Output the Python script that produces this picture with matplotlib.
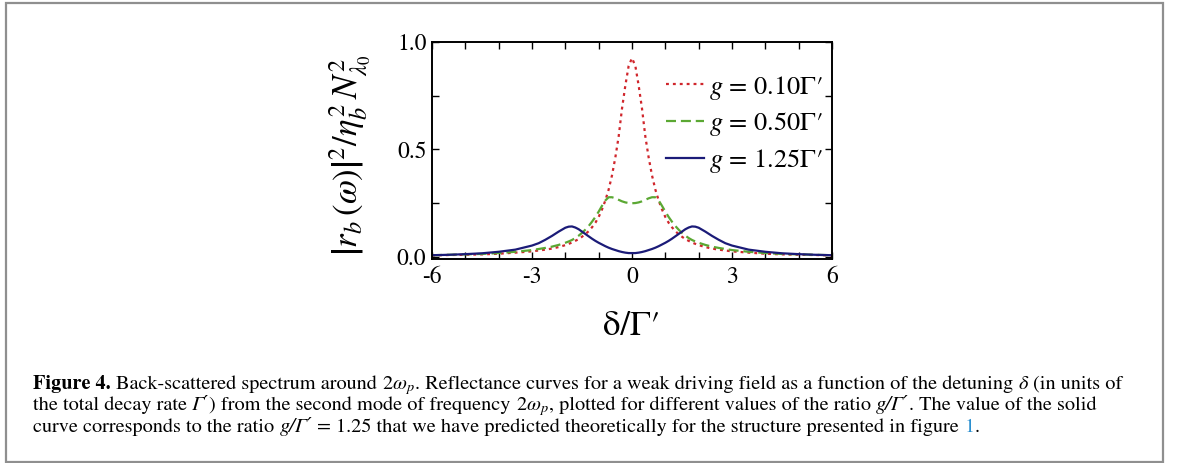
import numpy as np
import matplotlib
matplotlib.use('Agg')
import matplotlib.pyplot as plt
from matplotlib.patches import Rectangle

plt.rcParams['font.family'] = 'STIXGeneral'
plt.rcParams['mathtext.fontset'] = 'stix'
plt.rcParams['axes.unicode_minus'] = False

# half profile (curves are symmetric in detuning)
x_half = [0.0, 0.1, 0.2, 0.3, 0.4, 0.5, 0.6, 0.7, 0.8, 0.9, 1.0,
          1.1, 1.2, 1.3, 1.4, 1.5, 1.6, 1.7, 1.8, 1.9, 2.0,
          2.2, 2.4, 2.6, 2.8, 3.0, 3.5, 4.0, 4.5, 5.0, 5.5, 6.0]
r_g010 = [0.925, 0.889, 0.797, 0.690, 0.560, 0.462, 0.379, 0.313, 0.262, 0.220, 0.185,
          0.158, 0.137, 0.119, 0.105, 0.093, 0.082, 0.074, 0.066, 0.060, 0.054,
          0.045, 0.038, 0.033, 0.029, 0.025, 0.019, 0.014, 0.011, 0.009, 0.008, 0.006]
r_g050 = [0.249, 0.250, 0.253, 0.258, 0.265, 0.272, 0.277, 0.277, 0.262, 0.237, 0.210,
          0.185, 0.163, 0.143, 0.126, 0.111, 0.098, 0.087, 0.078, 0.071, 0.065,
          0.055, 0.047, 0.041, 0.036, 0.031, 0.023, 0.017, 0.013, 0.011, 0.009, 0.007]
r_g125 = [0.017, 0.017, 0.019, 0.022, 0.026, 0.031, 0.036, 0.042, 0.049, 0.057, 0.065,
          0.074, 0.084, 0.095, 0.106, 0.117, 0.128, 0.136, 0.141, 0.140, 0.135,
          0.117, 0.097, 0.079, 0.063, 0.052, 0.033, 0.023, 0.016, 0.012, 0.009, 0.007]

labels = [r'$g$ = 0.10Γ′', r'$g$ = 0.50Γ′', r'$g$ = 1.25Γ′']
colors = ['#d0262c', '#5ba833', '#1b1b78']
styles = [(0, (1.3, 1.8)), (0, (4.5, 2.2)), '-']


def mirror(v):
    v = np.asarray(v)
    return np.concatenate([v[::-1], v[1:]])


W, H = 1179, 463
fig = plt.figure(figsize=(W / 100, H / 100), dpi=100)
ax = fig.add_axes([432 / W, 1 - 259.3 / H, 400 / W, 217.3 / H])

x = np.concatenate([-np.asarray(x_half)[::-1], np.asarray(x_half)[1:]])
for vals, lab, c, ls in zip([r_g010, r_g050, r_g125], labels, colors, styles):
    ax.plot(x, mirror(vals), color=c, ls=ls, lw=1.6, label=lab)

ax.set_xlim(-6, 6)
ax.set_ylim(-0.012, 1.0)
ax.set_xticks([-6, -3, 0, 3, 6])
ax.set_xticklabels(['-6', '-3', '0', '3', '6'])
ax.set_xticks(np.arange(-6, 7, 1), minor=True)
ax.set_yticks([0.0, 0.5, 1.0])
ax.set_yticklabels(['0.0', '0.5', '1.0'])
ax.set_yticks([0.25, 0.75], minor=True)
ax.tick_params(which='both', direction='in', top=True, right=True,
               length=5, width=1, labelsize=17)
ax.tick_params(axis='x', pad=5)
ax.tick_params(axis='y', pad=4)
for s in ax.spines.values():
    s.set_linewidth(1.4)

ax.text(-0.205, 0.48, r'$\left|r_b\,(\omega)\right|^2/\eta_b^2\,N_{\lambda_0}^2$',
        transform=ax.transAxes, rotation=90, ha='center', va='center', fontsize=25)
ax.text(0.5, -0.31, 'δ/Γ′', transform=ax.transAxes, ha='center', va='center',
        fontsize=25)

ax.legend(loc='upper left', bbox_to_anchor=(0.585, 0.855), frameon=False,
          fontsize=19, handlelength=1.45, handletextpad=0.18, labelspacing=0.33,
          borderpad=0, borderaxespad=0)

# border box
fig.add_artist(Rectangle((6 / W, 1 - 462 / H), 1157 / W, 459 / H,
                         transform=fig.transFigure, fill=False,
                         edgecolor='#8f8f8f', lw=1.6))

# caption, written as pieces so that bold / italic / link colour can be mixed
cap_size = 14.6
x0 = 33
base = [389, 410.5, 432]
SP = None
N, B = {}, {'weight': 'bold'}
I = {'style': 'italic', 'family': ['STIXGeneral', 'DejaVu Serif']}
LINK = {'color': '#2b8fcf'}
cap_lines = [
    [('Figure 4.', B), SP, ('Back-scattered spectrum around', N), SP, (r'$2\omega_p$', N),
     ('. Reflectance curves for a weak driving field as a function of the detuning', N),
     SP, ('δ', I), SP, ('(in units of', N)],
    [('the total decay rate', N), SP, ('Γ′', I), (') from the second mode of frequency', N),
     SP, (r'$2\omega_p$', N), (', plotted for different values of the ratio', N), SP,
     ('g/Γ′', I), ('. The value of the solid', N)],
    [('curve corresponds to the ratio', N), SP, ('g/Γ′', I), SP,
     ('= 1.25 that we have predicted theoretically for the structure presented in figure', N),
     SP, ('1', LINK), ('.', N)],
]

renderer = fig.canvas.get_renderer()
space = 0.26 * cap_size * 100 / 72
for segs, yb in zip(cap_lines, base):
    xpos = x0
    for seg in segs:
        if seg is SP:
            xpos += space
            continue
        s, kw = seg
        t = fig.text(xpos / W, 1 - yb / H, s, fontsize=cap_size, va='baseline', **kw)
        xpos += t.get_window_extent(renderer).width

fig.savefig('out.png', dpi=100)
